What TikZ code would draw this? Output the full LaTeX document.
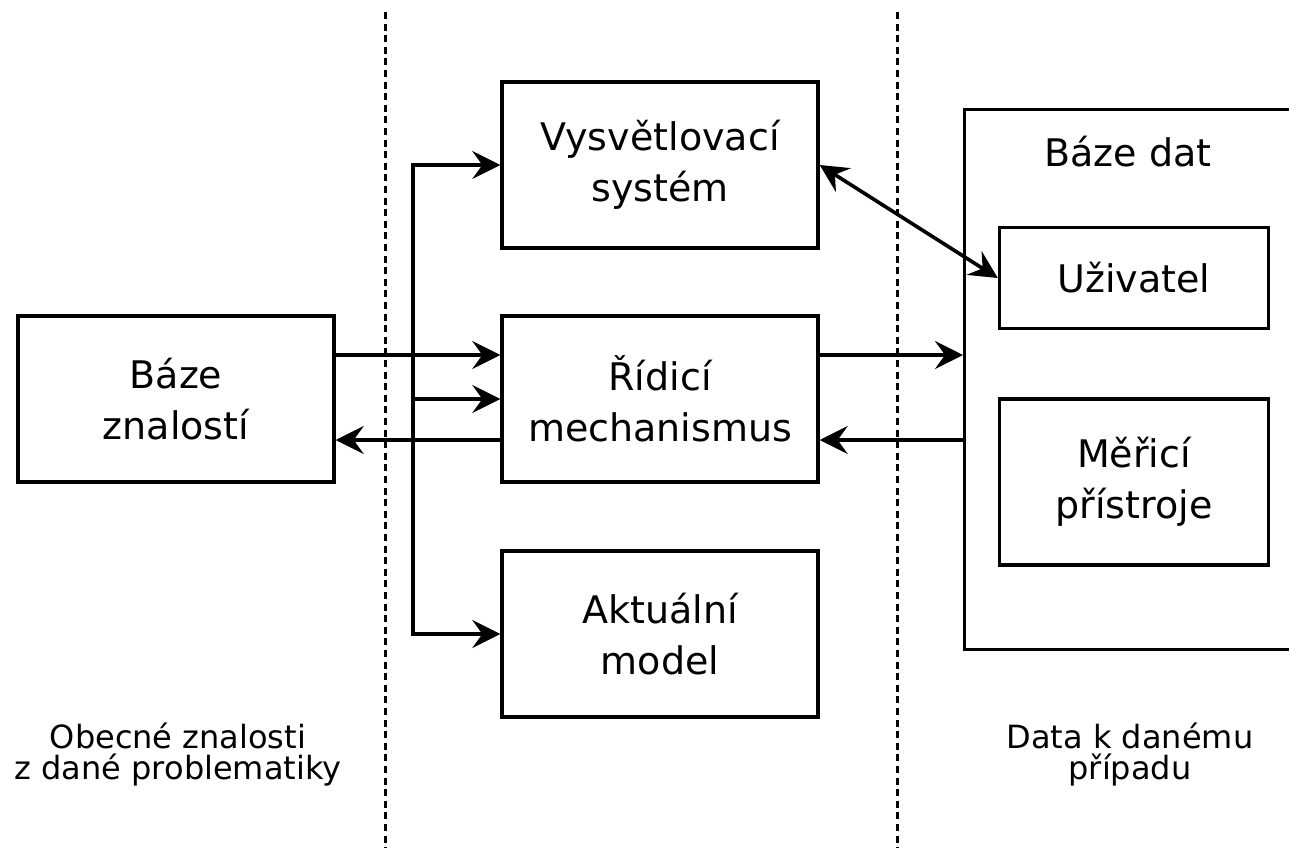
\documentclass[tikz,border=0pt]{standalone}
\usepackage{fontspec}
\setmainfont{DejaVu Sans}
\usetikzlibrary{arrows.meta}

\begin{document}
\begin{tikzpicture}[x=0.5pt, y=-0.5pt,
every node/.style={%anchor=base,
    align=center, inner sep=1pt, font=\fontsize{19}{25.5}\selectfont
    },
box/.style={draw, line width=1.7pt, minimum width=158pt, minimum height=83pt},
arr/.style={line width=1.8pt, -{Stealth[length=14pt, width=14pt, inset=5pt]}},
darr/.style={line width=1.8pt, {Stealth[length=14pt, width=14pt, inset=5pt]}-{Stealth[length=14pt, width=14pt, inset=5pt]}},
sep/.style={line width=1.5pt, dash pattern=on 3.5pt off 2.3pt},
note/.style={font=\fontsize{16}{15.5}\selectfont}
]
\useasboundingbox (0,0) rectangle (1289,848);
\fill[white] (0,0) rectangle (1289,848);
\clip (0,0) rectangle (1289,848);

\node[box] (knowl) at (176,399) {Báze\\znalostí};
\node[box] (expl)  at (660,165) {Vysvětlovací\\systém};
\node[box] (ctrl)  at (660,399) {Řídicí\\mechanismus};
\node[box] (model) at (660,634) {Aktuální\\model};

\node[box, minimum width=180pt, minimum height=270pt, anchor=north west] (dbase) at (963,108) {};
\node (dbasetitle) at (1128,152) {Báze dat};
\node[box, minimum width=134.5pt, minimum height=50.5pt] (user) at (1134,278) {Uživatel};
\node[box, minimum width=134.5pt, minimum height=83pt] (meas) at (1134,482) {Měřicí\\přístroje};

\node[note] (general)  at (178,755) {Obecné znalosti\\z dané problematiky};
\node[note] (casedata) at (1130,755) {Data k danému\\případu};

\coordinate (sepltop) at (385,12);  \coordinate (seplbot) at (385,848);
\coordinate (seprtop) at (897,12);  \coordinate (seprbot) at (897,848);
\draw[sep] (sepltop) -- (seplbot);
\draw[sep] (seprtop) -- (seprbot);

\coordinate (bustop) at (413,165);
\coordinate (busbot) at (413,634);
\draw[line width=1.8pt, line cap=rect] (bustop) -- (busbot);
\foreach \n in {expl, ctrl, model}
    \draw[arr] (bustop |- \n.west) -- (\n.west);

\draw[arr] ([yshift=22pt]knowl.east) -- ([yshift=22pt]ctrl.west);
\draw[arr] ([yshift=-20.5pt]ctrl.west) -- ([yshift=-20.5pt]knowl.east);
\draw[arr] ([yshift=22pt]ctrl.east) -- ([yshift=22pt]ctrl.east -| dbase.west);
\draw[arr] ([yshift=-20.5pt]ctrl.east -| dbase.west) -- ([yshift=-20.5pt]ctrl.east);
\draw[darr] (expl.east) -- (user.west);
\end{tikzpicture}
\end{document}
